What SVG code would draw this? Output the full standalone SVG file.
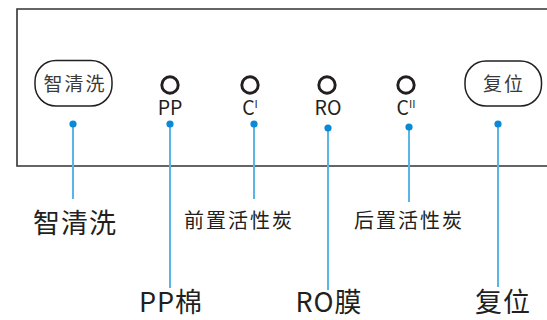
<svg xmlns="http://www.w3.org/2000/svg" width="547" height="320" viewBox="0 0 547 320">
<style>
text{font-family:"Noto Sans CJK SC","Noto Sans",sans-serif;fill:#231f20;text-anchor:middle}
.btn{fill:#fff;stroke:#231f20;stroke-width:1.5}
.bt{font-size:19px;letter-spacing:2px;fill:#3a3a3a}
.led{fill:none;stroke:#231f20;stroke-width:2.9}
.sl{font-size:19.5px}
.sup{font-size:11px}
.lead{stroke:#5ab4e6;stroke-width:2;fill:none}
.dot{fill:#0a8ad6}
.big{font-size:27px;letter-spacing:1px}
.mid{font-size:20px;letter-spacing:2px}
</style>
<rect width="547" height="320" fill="#fff"/>
<path d="M548 9 H17 V166 H548" fill="none" stroke="#333" stroke-width="1.6"/>
<g id="connectors">
<line class="lead" x1="73" y1="124" x2="73" y2="199"/>
<line class="lead" x1="170" y1="124" x2="170" y2="288"/>
<line class="lead" x1="254" y1="124" x2="254" y2="199"/>
<line class="lead" x1="328" y1="128" x2="328" y2="290"/>
<line class="lead" x1="409" y1="127" x2="409" y2="202"/>
<line class="lead" x1="498" y1="124" x2="498" y2="287"/>
<circle class="dot" cx="73" cy="124" r="3.6"/>
<circle class="dot" cx="170" cy="124" r="3.6"/>
<circle class="dot" cx="254" cy="124" r="3.6"/>
<circle class="dot" cx="328" cy="128" r="3.6"/>
<circle class="dot" cx="409" cy="127" r="3.6"/>
<circle class="dot" cx="498" cy="124" r="3.6"/>
</g>
<g id="btn-clean">
<rect class="btn" x="35" y="60.5" width="77" height="45.5" rx="21"/>
<text class="bt" x="75" y="91">智清洗</text>
</g>
<g id="led-pp">
<circle class="led" cx="170" cy="85" r="8.2"/>
<text class="sl" x="170" y="115">PP</text>
</g>
<g id="led-c1">
<circle class="led" cx="250" cy="85" r="8.2"/>
<text class="sl" x="250" y="115">C<tspan class="sup" dy="-7">I</tspan></text>
</g>
<g id="led-ro">
<circle class="led" cx="327" cy="85" r="8.2"/>
<text class="sl" x="328" y="115">RO</text>
</g>
<g id="led-c2">
<circle class="led" cx="406" cy="85" r="8.2"/>
<text class="sl" x="406" y="115">C<tspan class="sup" dy="-7">II</tspan></text>
</g>
<g id="btn-reset">
<rect class="btn" x="465" y="61" width="76.5" height="45" rx="21"/>
<text class="bt" x="504" y="91">复位</text>
</g>
<g id="label-clean"><text class="big" x="75" y="233">智清洗</text></g>
<g id="label-pp"><text class="big" x="171" y="312">PP棉</text></g>
<g id="label-c1"><text class="mid" x="239" y="228">前置活性炭</text></g>
<g id="label-ro"><text class="big" x="329" y="312">RO膜</text></g>
<g id="label-c2"><text class="mid" x="409" y="228">后置活性炭</text></g>
<g id="label-reset"><text class="big" x="503" y="312">复位</text></g>
</svg>
